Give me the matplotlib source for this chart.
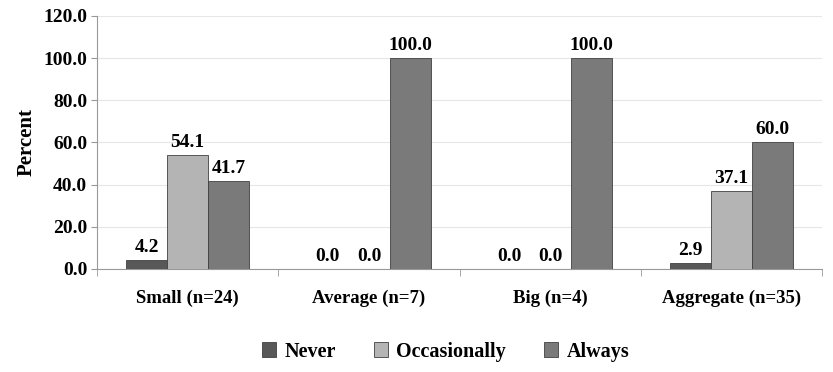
import numpy as np
from matplotlib import pyplot as plt

# data
categories = ['Small (n=24)', 'Average (n=7)', 'Big (n=4)', 'Aggregate (n=35)']
never = [4.2, 0.0, 0.0, 2.9]
occasionally = [54.1, 0.0, 0.0, 37.1]
always = [41.7, 100.0, 100.0, 60.0]
series_names = ['Never', 'Occasionally', 'Always']
colors = ['#585858', '#b4b4b4', '#7a7a7a']

plt.rcParams['font.family'] = ['Liberation Serif', 'DejaVu Serif']
plt.rcParams['font.weight'] = 'bold'

fig = plt.figure(figsize=(8.33, 3.72), dpi=100)
ax = fig.add_axes([0.1165, 0.277, 0.8705, 0.68])

x = np.arange(len(categories))
width = 0.227
for i, (vals, name) in enumerate(zip([never, occasionally, always], series_names)):
    pos = x + (i - 1) * width
    bars = ax.bar(pos, vals, width, color=colors[i], edgecolor='#404040',
                  linewidth=0.6, label=name, zorder=3)
    for b, v in zip(bars, vals):
        ax.text(b.get_x() + b.get_width() / 2, v + 2, '%.1f' % v,
                ha='center', va='bottom', fontsize=14, fontweight='bold')

ax.set_xlim(-0.5, len(categories) - 0.5)
ax.set_ylim(0, 120)
ax.set_yticks(np.arange(0, 121, 20))
ax.set_yticklabels(['%.1f' % v for v in np.arange(0, 121, 20)], fontsize=14, fontweight='bold')
ax.set_xticks(x)
ax.set_xticklabels(categories, fontsize=13.5, fontweight='bold')
ax.tick_params(axis='x', length=0, pad=15)
ax.tick_params(axis='y', length=4, color='#999999', pad=3)
# small tick marks between the category groups
ax.set_xticks(np.arange(-0.5, len(categories), 1), minor=True)
ax.tick_params(axis='x', which='minor', length=5, color='#999999')

ax.grid(axis='y', color='#e6e6e6', linewidth=0.8, zorder=0)
for side in ['top', 'right']:
    ax.spines[side].set_visible(False)
ax.spines['left'].set_color('#999999')
ax.spines['bottom'].set_color('#999999')

ax.set_ylabel('Percent', fontsize=15, fontweight='bold', labelpad=5)

fig.legend(loc='center', bbox_to_anchor=(0.535, 0.055), ncol=3, frameon=False,
           fontsize=14.5, handlelength=0.7, handleheight=0.7, columnspacing=1.9,
           handletextpad=0.4)

plt.savefig('out.png', dpi=100)
